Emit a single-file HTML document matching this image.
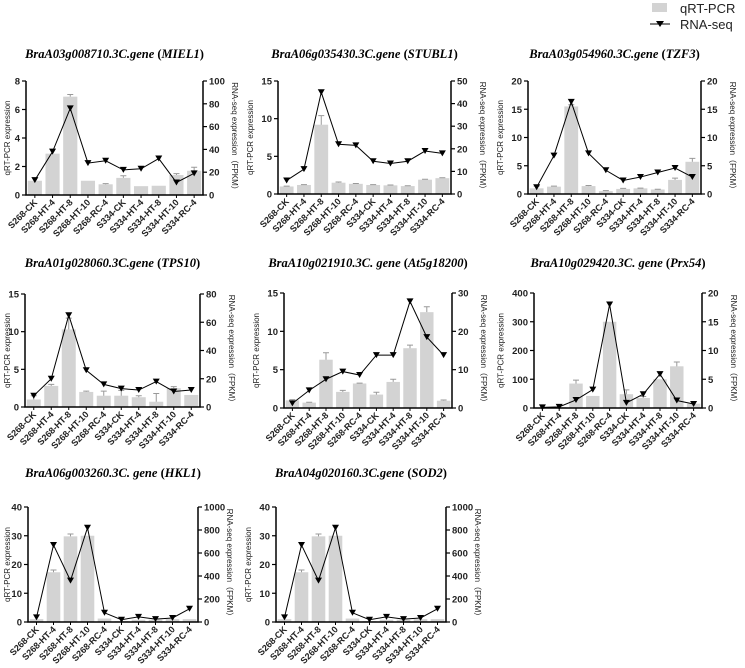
<!DOCTYPE html>
<html><head><meta charset="utf-8"><style>
body{margin:0;background:#fff;}
svg{display:block;font-family:"Liberation Sans",Arial,sans-serif;}
</style></head><body>
<svg id="c" width="745" height="668" viewBox="0 0 745 668">
<g>
<rect x="652" y="3" width="15" height="9" fill="#d3d3d3"/>
<text x="680" y="13" font-size="13" fill="#222">qRT-PCR</text>
<line x1="650" y1="24" x2="670" y2="24" stroke="#000" stroke-width="1"/>
<path d="M656,21 L664,21 L660,27 Z" fill="#000"/>
<text x="680" y="29" font-size="13" fill="#222">RNA-seq</text>
</g>
</svg>
<script>
const categories=["S268-CK","S268-HT-4","S268-HT-8","S268-HT-10","S268-RC-4","S334-CK","S334-HT-4","S334-HT-8","S334-HT-10","S334-RC-4"];
const titles=[["BraA03g008710.3C.gene","MIEL1"],["BraA06g035430.3C.gene","STUBL1"],["BraA03g054960.3C.gene","TZF3"],["BraA01g028060.3C.gene","TPS10"],["BraA10g021910.3C. gene","At5g18200"],["BraA10g029420.3C. gene","Prx54"],["BraA06g003260.3C. gene","HKL1"],["BraA04g020160.3C.gene","SOD2"]];
const qMax=[8,15,20,15,15,400,40,40];
const qStep=[2,5,5,5,5,100,10,10];
const rMax=[100,50,20,80,30,20,1000,1000];
const rStep=[20,10,5,20,10,5,200,200];
const qpcr1=[1.0,2.9,6.9,1.0,0.75,1.2,0.62,0.65,1.4,1.7];
const qpcr2=[1.0,1.2,9.2,1.5,1.35,1.2,1.15,1.05,1.9,2.1];
const qpcr3=[1.0,1.3,15.5,1.4,0.5,0.9,1.0,0.8,2.5,5.7];
const qpcr4=[1.0,2.8,10.3,2.0,1.5,1.5,1.3,0.7,2.5,1.6];
const qpcr5=[1.0,0.7,6.3,2.1,3.2,1.75,3.4,7.8,12.5,0.95];
const qpcr6=[2,3,85,42,300,48,35,100,145,15];
const qpcr7=[1.0,17.3,29.8,30,1.2,0.3,0.8,0.8,1.0,1.0];
const qpcr8=[1.0,17.3,29.8,30,1.2,0.3,0.8,0.8,1.0,1.0];
const err1=[0,0,0.15,0,0.05,0.15,0,0,0.1,0.25];
const err2=[0.05,0.05,1.2,0.1,0.05,0.05,0.05,0.05,0.05,0.05];
const err3=[0.4,0.1,0.3,0.1,0.1,0.1,0.05,0.05,0.3,0.6];
const err4=[0.5,0.2,1.5,0.1,0.6,0.7,0.2,1.1,0.2,0];
const err5=[0.1,0.05,0.9,0.2,0.05,0.3,0.35,0.4,0.7,0.1];
const err6=[0,0,12,0,0,15,5,0,15,0];
const err7=[0,0.8,0.8,0,0,0,0,0,0,0];
const err8=[0,0.8,0.8,0,0,0,0,0,0,0];
const rna1=[13,38,76,28,30,22,23,32,11,19];
const rna2=[6,11,45,22,21.5,14.5,13.5,14.5,19,18];
const rna3=[1.2,6.8,16.3,7.2,4.2,2.4,3.0,3.8,4.6,3.0];
const rna4=[8,20,65,26,16,13,12,18,11,12];
const rna5=[1.2,4.6,7.5,9.5,8.6,13.8,13.8,27.8,18.5,13.8];
const rna6=[0.1,0.2,1.4,3.2,18,0.9,2.4,5.9,1.3,0.7];
const rna7=[40,670,360,820,80,20,45,25,35,115];
const rna8=[40,670,360,820,80,20,45,25,35,115];
const Q=[qpcr1,qpcr2,qpcr3,qpcr4,qpcr5,qpcr6,qpcr7,qpcr8];
const E=[err1,err2,err3,err4,err5,err6,err7,err8];
const R=[rna1,rna2,rna3,rna4,rna5,rna6,rna7,rna8];
const boxes=[[26,203,81,195,58],[278,451,81,194,58],[528,701,81,194,58],[25,200,294,407,267],[284,452,293,408,267],[534,702,293,408,267],[28,198,507,622,477],[276,446,507,622,477]];
const NS="http://www.w3.org/2000/svg";
const svg=document.getElementById('c');
function mk(t,a,p){const e=document.createElementNS(NS,t);for(const k in a)e.setAttribute(k,a[k]);(p||svg).appendChild(e);return e;}
boxes.forEach((b,i)=>{
 const [L,Rr,T,B,ty]=b;
 const g=mk('g',{});
 
 
 const n=categories.length, step=(Rr-L)/n;
 const xc=k=>L+step*(k+0.5);
 const yq=v=>B-(v/qMax[i])*(B-T);
 const yr=v=>B-(v/rMax[i])*(B-T);
 const t=mk('text',{x:(L+Rr)/2,y:ty,'text-anchor':'middle','font-family':'"Liberation Serif",serif','font-size':'12.5','font-weight':'bold'},g);
 
 
 t.innerHTML='<tspan font-style="italic">'+titles[i][0]+'</tspan> (<tspan font-style="italic">'+titles[i][1]+'</tspan>)';
 Q[i].forEach((v,k)=>{
  const bw=step*0.8;
  const r=mk('rect',{x:xc(k)-bw/2,y:yq(v),width:bw,height:B-yq(v),fill:'#d3d3d3'},g);
  
  
  if(E[i][k]>0){
   const y2=yq(v+E[i][k]);
   const eb=mk('path',{d:`M${xc(k)},${yq(v)}V${y2}M${xc(k)-3},${y2}H${xc(k)+3}`,stroke:'#999','stroke-width':1,fill:'none'},g);
   
   
  }
 });
 const pts=R[i].map((v,k)=>xc(k)+','+yr(v)).join(' ');
 const pl=mk('polyline',{points:pts,fill:'none',stroke:'#000','stroke-width':1},g);
 
 
 R[i].forEach((v,k)=>{
  const x=xc(k),y=yr(v);
  const m=mk('path',{d:`M${x-3.5},${y-3} L${x+3.5},${y-3} L${x},${y+3} Z`,fill:'#000'},g);
  
  
 });
 const ax=mk('path',{d:`M${L},${T}V${B}H${Rr}V${T}`,stroke:'#000','stroke-width':1.5,fill:'none'},g);
 
 
 let maxLen=1;
 for(let v=0;v<=qMax[i]+1e-9;v+=qStep[i]){
  const y=yq(v);
  maxLen=Math.max(maxLen,String(v).length);
  mk('line',{x1:L-4,x2:L,y1:y,y2:y,stroke:'#000','stroke-width':1.2},g);
  const tl=mk('text',{x:L-6,y:y+3.5,'text-anchor':'end','font-size':'9.5','font-weight':'bold',fill:'#222'},g);
  
  
  tl.textContent=v;
 }
 for(let v=0;v<=rMax[i]+1e-9;v+=rStep[i]){
  const y=yr(v);
  mk('line',{x1:Rr,x2:Rr+4,y1:y,y2:y,stroke:'#000','stroke-width':1.2},g);
  const tl=mk('text',{x:Rr+6,y:y+3.5,'font-size':'9.5','font-weight':'bold',fill:'#222'},g);
  
  
  tl.textContent=v;
 }
 categories.forEach((c,k)=>{
  const x=xc(k);
  mk('line',{x1:x,x2:x,y1:B,y2:B+3,stroke:'#000','stroke-width':1},g);
  const tl=mk('text',{x:x+3,y:B+8,'text-anchor':'end','font-size':'9','font-weight':'bold',fill:'#222',transform:`rotate(-45 ${x+3} ${B+8})`},g);
  
  
  tl.textContent=c;
 });
 const off=maxLen*5.5+14;
 const lx=Math.max(L-off,10);
 const yl=mk('text',{x:0,y:0,'text-anchor':'middle','font-size':'8',fill:'#222',transform:`translate(${lx},${(T+B)/2}) rotate(-90)`},g);
 
 
 yl.textContent='qRT-PCR expression';
 const yr2=mk('text',{x:0,y:0,'text-anchor':'middle','font-size':'8',fill:'#222',transform:`translate(${Rr+29},${(T+B)/2}) rotate(90)`},g);
 
 
 yr2.textContent='RNA-seq expression（FPKM）';
});
</script>
</body></html>
